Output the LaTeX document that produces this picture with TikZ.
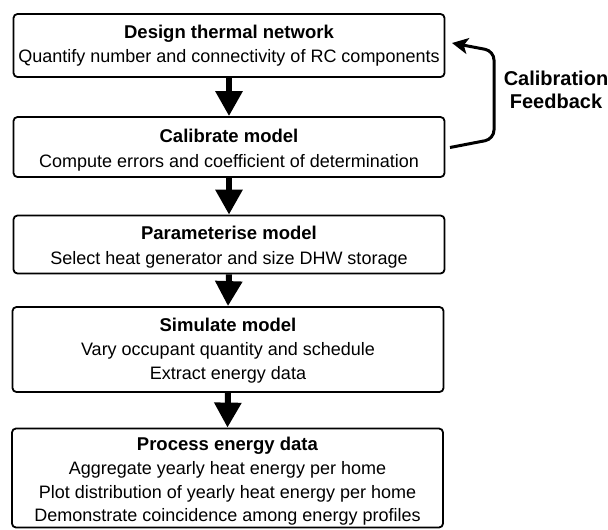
\documentclass[tikz,border=0pt]{standalone}
\usepackage{fontspec}
\setmainfont{Liberation Sans}
\usetikzlibrary{arrows.meta}

% raise the first line of a stage by adding room above it
\newcommand{\headroom}[1]{\rule{0pt}{#1}}

\begin{document}
\begin{tikzpicture}[x=1pt, y=-1pt,
  stage/.style={draw, line width=1.8pt, rounded corners=4pt,
    minimum width=431pt, align=center, inner sep=0pt,
    font=\fontsize{18}{23.5}\selectfont},
  flow/.style={line width=6pt, -{Triangle[length=25pt, width=26pt]}},
  feedback/.style={line width=3pt, rounded corners=9pt,
    -{Stealth[length=16pt, width=16pt, inset=4pt]}}]

\useasboundingbox (0,0) rectangle (608,530);

% process stages
\node[stage, minimum height=63pt] (design) at (229,45.5)
  {\textbf{\fontsize{18.5}{23.5}\selectfont Design thermal network}\\[1pt]
   Quantify number and connectivity of RC components};
\node[stage, minimum height=60pt] (calib) at (229,147)
  {\headroom{20pt}\textbf{\fontsize{18.5}{23.5}\selectfont Calibrate model}\\[1pt]
   Compute errors and coefficient of determination};
\node[stage, minimum height=58pt] (param) at (229,244.5)
  {\headroom{19pt}\textbf{\fontsize{18.5}{23.5}\selectfont Parameterise model}\\[1pt]
   Select heat generator and size DHW storage};
\node[stage, minimum height=85pt] (sim) at (228,349.5)
  {\headroom{15pt}\textbf{\fontsize{18.5}{23.5}\selectfont Simulate model}\\[1pt]
   Vary occupant quantity and schedule\\
   Extract energy data};
\node[stage, minimum height=99pt] (proc) at (227.5,478)
  {\headroom{20pt}\textbf{\fontsize{18.5}{23.5}\selectfont Process energy data}\\[1pt]
   Aggregate yearly heat energy per home\\
   Plot distribution of yearly heat energy per home\\
   Demonstrate coincidence among energy profiles};

% forward flow between stages
\draw[flow] (design.south) -- (calib.north);
\draw[flow] (calib.south) -- (param.north);
\draw[flow] (param.south) -- (sim.north);
\draw[flow] (sim.south) -- (proc.north);

% calibration feedback loop
\coordinate (fbout) at (450,147.5);
\coordinate (fbin) at (452,43);
\draw[feedback] (fbout) -- (494,139) -- (494,51) -- (fbin);
\node[align=center, font=\fontsize{20}{23}\selectfont\bfseries] (fblabel) at (556,90)
  {Calibration\\Feedback};
\end{tikzpicture}
\end{document}
